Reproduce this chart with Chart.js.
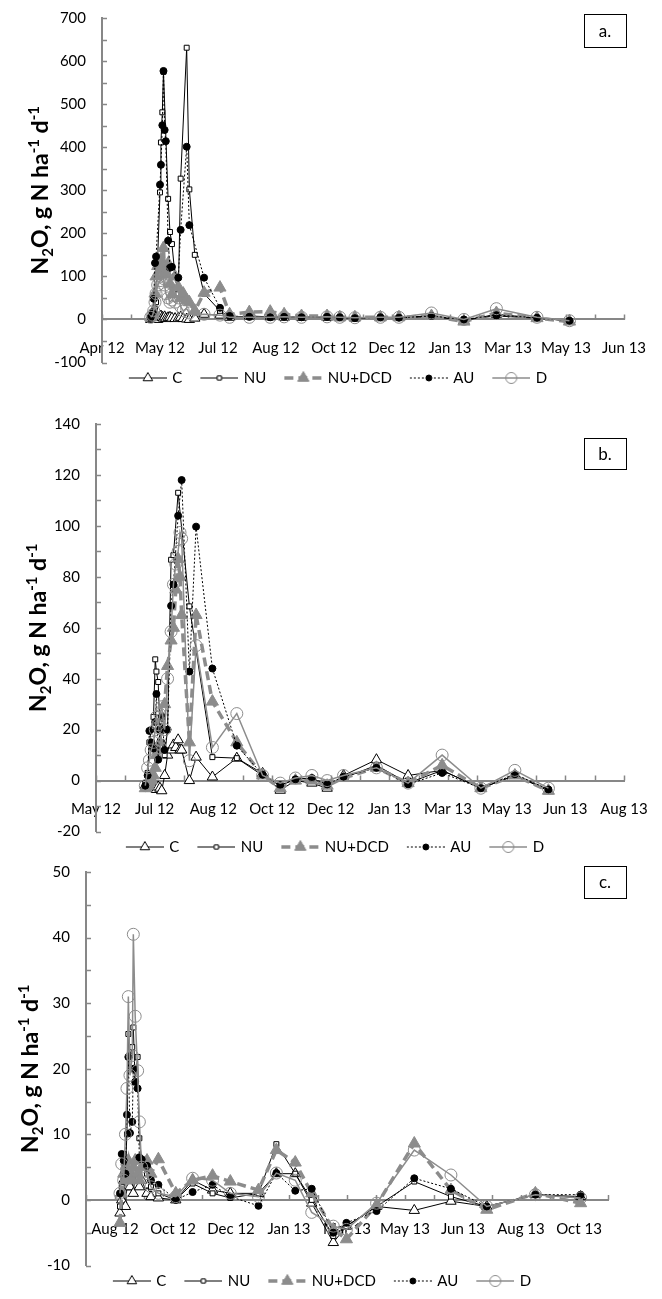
<!DOCTYPE html>
<html>
<head>
<meta charset="utf-8">
<title>N2O fluxes</title>
<script src="https://cdn.jsdelivr.net/npm/chart.js@4.4.1/dist/chart.umd.min.js"></script>
<style>
  html, body { margin: 0; padding: 0; background: #ffffff; }
  body { position: relative; width: 662px; height: 1299px; overflow: hidden; }
  canvas { position: absolute; left: 0; }
</style>
</head>
<body>
<canvas id="chartA" width="662" height="400" style="top:0px"></canvas>
<canvas id="chartB" width="662" height="474" style="top:400px"></canvas>
<canvas id="chartC" width="662" height="449" style="top:850px"></canvas>
<script>
const seriesNames = ['C', 'NU', 'NU+DCD', 'AU', 'D'];

// panel a - sampling days counted from 1 Apr 2012
const daysA = [40, 42, 43.7, 44.6, 45.7, 46.6, 48, 50, 50.8, 52,
               53, 54, 55, 57, 58.6, 60.3, 63, 65.8, 67.8, 70,
               73, 75.3, 80, 88, 101.7, 110, 127, 145, 157, 172,
               194, 205, 218, 240, 256, 284, 312, 340, 375, 403];
const cA   = [null, 0, 2, 5, 8, 3, 0, 5, 8, 5, 3, 6, 2, 4, 5, 3, 2, 3, 5, 2,
              1, 0, 3, 12, 10, 5, 8, 6, 5, 5, 5, 4, 3, 4, 5, 8, -3, 12, 3, -3];
const nuA  = [null, 3, 8, 15, 25, 40, null, 295, 411, 481, 575, null, null, 280, 203, 175, 100, 60, 327, null,
              631, 302, 150, 60, 20, 6, 5, 4, 6, 5, 5, 4, 3, 5, 4, 6, 0, 8, 3, -3];
const dcdA = [null, 5, 10, 20, 60, 100, 124, 115, 140, 120, 166, 104, 110, 130, 83, 58, 100, 75, 50, 60,
              45, 40, 20, 62, 74, 12, 17, 18, 12, 8, 8, 5, 5, 5, 5, 8, -5, 15, 3, -5];
const auA  = [null, 5, 17, 48, 131, 146, null, 313, 359, 451, 577, 440, 414, 183, 120, 122, null, 97, 208, null,
              401, 219, null, 97, 27, 8, 6, 5, 6, 5, 6, 5, 3, 5, 4, 8, 0, 10, 4, -3];
const dA   = [null, 5, 10, 20, 40, 60, 80, 90, 100, 110, 95, 80, 60, 50, 40, 45, 40, 50, 30, 20,
              25, 15, 10, 12, 10, 5, 5, 5, 6, 5, 6, 5, 4, 5, 5, 15, 0, 25, 5, -3];
const ticksA = ['Apr 12', 'May 12', 'Jul 12', 'Aug 12', 'Oct 12', 'Dec 12', 'Jan 13', 'Mar 13', 'May 13', 'Jun 13'];

// panel b - days from 15 May 2012
const daysB = [42, 44, 45.5, 47, 49, 50.5, 51.5, 53, 54.5, 56,
               58.5, 61, 64, 66, 68, 70, 71.6, 73, 79.6, 85.3,
               99.2, 120, 142, 157, 170, 184, 197, 211, 239, 266,
               295, 328, 357, 385.6];
const cB   = [-2, -1, 0, -1, -2, -3, -3.5, -2.5, -3, -4, 2, 10, 12, 14, 13, 16, 12, 12, 0, 9.2,
              1.4, 8.8, 2.8, -3.8, 0, -1, -3, 2, 8.2, 2, 4, -3, 2, -4];
const nuB  = [-1, 3, 15, 20, 25, 47.6, 42.8, 38.7, 20, 15, 10, 20, 86.7, 88.5, null, 113, null, null, 68.4, null,
              9.2, 8.8, 2, -2, 0.5, 1, -2, 1, 6, -1, 4, -3, 2, -3.5];
const dcdB = [-3, -2, -1, 0, 2, 5, 10, 12, 15, 20, 30, 45, 55, 60, 75, 87, 80, 65, 15, 65,
              31, 15, 2, -3, 0, 0, -2, 1, 5, -1, 6, -3, 2, -4];
const auB  = [-2, 2, 19.5, 15, 12.6, 23, 34, 8.2, 20, 25, 12, 20, 68.6, 77, null, 104, null, 118, 42.8, 99.7,
              44, 13.7, 2.3, -1.8, 0.5, 1, -1.5, 1.5, 5, -1.5, 3, -3, 2.5, -3.5];
const dB   = [-2, 5, 8, 12, 15, 20, 25, 22, 26, 29, 20, 40, 58.5, 77, 85, 90, 97.4, 95, 7.8, 53,
              13, 26.3, 2, -1, 1, 2, 0, 2, 5, -1, 10, -3, 4, -3];
const ticksB = ['May 12', 'Jul 12', 'Aug 12', 'Oct 12', 'Dec 12', 'Jan 13', 'Mar 13', 'May 13', 'Jun 13', 'Aug 13'];

// panel c - days from 28 Aug 2012 (axis starts 25 days earlier)
const daysC = [4.3, 5.8, 7.5, 9, 10.3, 11.5, 12.9, 14.9, 15.8, 17.4,
               19.5, 21, 23, 27.6, 31, 37.4, 52.4, 66.9, 84.1, 99.4,
               123.7, 139.1, 155.4, 169.6, 188.2, 199.5, 225.5, 258, 289.6, 320.5,
               362.4, 401.4];
const cC   = [-2, 0, 3, -1, 2, 4, 2, 3, 1, 4, 3, 2, 3, 1, 0.5, 0.3, 0, 3, 1.5, 1,
              1, 4, 4, -0.5, -6.5, -4, -1, -1.6, -0.2, -1, 0.8, 0.5];
const nuC  = [-1, 2, 7, 5, 10, 25.3, 22, 23.3, 26.3, 18, 21.8, 9.4, 6, 4, 2, 1, 0, 2.5, 1, 0.3,
              1, 8.5, 4, 0, -5.5, -4, -1, 2.8, 0.5, -1, 0.8, 0.3];
const dcdC = [-3.5, 1, 4, 3, 5, 6, 4, 3, 5, 6, 4, 3, 5, 6, 4, 6.2, 1, 3, 3.7, 2.8,
              1.5, 7.6, 5.7, 1, -4.5, -6, -0.8, 8.6, 1.5, -1.5, 1, -0.5];
const auC  = [1, 7, 6, 4, 13, 21.8, 10.2, 11.9, 20, 18, 17, 6.5, 6.2, 5.2, 3, 2.3, 0, 1.2, 2.3, 0.5,
              -0.9, 4.1, 1.4, 1.7, -5, -3.5, -1.7, 3.3, 1.7, -1, 0.8, 0.8];
const dC   = [1, 5.5, 3, 10, 17, 31, 19, 22, 40.5, 28, 19.7, 11.9, 5, 4, 2, 1, 0.5, 3.3, 3, 1,
              0.5, 4.1, 3, -1.9, -4, -4.5, -0.5, 7.6, 3.8, -1, 0.8, 0.3];
const ticksC = ['Aug 12', 'Oct 12', 'Dec 12', 'Jan 13', 'Mar 13', 'May 13', 'Jun 13', 'Aug 13', 'Oct 13'];

const titleParts = [['N', 0], ['2', -1], ['O, g N ha', 0], ['-1', 1], [' d', 0], ['-1', 1]];

const axisGray = '#878787';
const styles = [
  {color: '#000000', width: 1, dash: [], point: 'triangle', radius: 6, fill: '#ffffff'},
  {color: '#000000', width: 1, dash: [], point: 'rect', radius: 3.5, fill: '#ffffff'},
  {color: '#8c8c8c', width: 3.5, dash: [9, 5], point: 'triangle', radius: 7, fill: '#8c8c8c'},
  {color: '#000000', width: 1, dash: [2, 2], point: 'circle', radius: 3.5, fill: '#000000'},
  {color: '#8c8c8c', width: 1.5, dash: [], point: 'circle', radius: 6, fill: 'rgba(0,0,0,0)'}
];

Chart.defaults.font.family = 'Lato';
Chart.defaults.font.size = 15;
Chart.defaults.color = '#000000';

function legendIcon(st) {
  const c = document.createElement('canvas');
  c.width = 50;
  c.height = 16;
  const g = c.getContext('2d');
  g.strokeStyle = st.color;
  g.lineWidth = st.width;
  g.setLineDash(st.dash);
  g.beginPath();
  g.moveTo(12, 8);
  g.lineTo(50, 8);
  g.stroke();
  g.setLineDash([]);
  g.lineWidth = 1;
  g.fillStyle = st.fill;
  Chart.helpers.drawPoint(g, {pointStyle: st.point, radius: st.radius - 0.5, rotation: 0, borderWidth: 1}, 31, 8);
  return c;
}
const legendIcons = styles.map(legendIcon);

// small inward tick marks, as on the original axes
const axisMarks = {
  id: 'axisMarks',
  beforeDatasetsDraw(chart, args, opts) {
    const {ctx, chartArea} = chart;
    const x = chart.scales.x, y = chart.scales.y;
    const y0 = y.getPixelForValue(0);
    ctx.save();
    ctx.strokeStyle = axisGray;
    ctx.lineWidth = 1.5;
    ctx.beginPath();
    for (let v = x.min; v <= x.max; v += opts.xStep) {
      const px = Math.round(x.getPixelForValue(v)) + 0.5;
      ctx.moveTo(px, y0);
      ctx.lineTo(px, y0 - 5);
    }
    for (let v = y.min; v <= y.max; v += opts.yStep) {
      const py = Math.round(y.getPixelForValue(v)) + 0.5;
      ctx.moveTo(chartArea.left, py);
      ctx.lineTo(chartArea.left + 5, py);
    }
    ctx.stroke();
    ctx.restore();
  }
};

// rotated axis title with real sub- and superscripts
const yTitle = {
  id: 'yTitle',
  afterDraw(chart, args, opts) {
    const {ctx, chartArea} = chart;
    const big = 'bold 23px Lato', small = 'bold 15px Lato';
    ctx.save();
    let total = 0;
    const widths = titleParts.map(([t, s]) => {
      ctx.font = s ? small : big;
      const w = ctx.measureText(t).width;
      total += w;
      return w;
    });
    ctx.translate(opts.cx, (chartArea.top + chartArea.bottom) / 2);
    ctx.rotate(-Math.PI / 2);
    ctx.fillStyle = '#000000';
    ctx.textBaseline = 'alphabetic';
    let pos = -total / 2;
    titleParts.forEach(([t, s], i) => {
      ctx.font = s ? small : big;
      const dy = s < 0 ? 13 : (s > 0 ? -1 : 8);
      ctx.fillText(t, pos, dy);
      pos += widths[i];
    });
    ctx.restore();
  }
};

// boxed panel letter
const panelTag = {
  id: 'panelTag',
  afterDraw(chart, args, opts) {
    const {ctx} = chart;
    ctx.save();
    ctx.strokeStyle = '#000000';
    ctx.lineWidth = 1;
    ctx.strokeRect(opts.x + 0.5, opts.y + 0.5, opts.w, opts.h);
    ctx.fillStyle = '#000000';
    ctx.font = '17px Lato';
    ctx.textAlign = 'center';
    ctx.textBaseline = 'middle';
    ctx.fillText(opts.text, opts.x + opts.w / 2, opts.y + opts.h / 2 + 1);
    ctx.restore();
  }
};

function makeChart(id, days, series, tickLabels, cfg) {
  const datasets = series.map((values, i) => {
    const st = styles[i];
    return {
      label: seriesNames[i],
      data: days.map((d, k) => values[k] === null ? null : {x: d, y: values[k]}).filter(p => p),
      borderColor: st.color,
      borderWidth: st.width,
      borderDash: st.dash,
      pointStyle: st.point,
      pointRadius: st.radius,
      pointBackgroundColor: st.fill,
      pointBorderColor: st.color,
      pointBorderWidth: 1,
      tension: 0,
      fill: false,
      order: series.length - 1 - i
    };
  });

  return new Chart(document.getElementById(id), {
    type: 'line',
    data: {datasets: datasets},
    options: {
      responsive: false,
      animation: false,
      events: [],
      layout: {padding: cfg.padding},
      scales: {
        x: {
          type: 'linear',
          position: {y: 0},
          min: cfg.xMin,
          max: cfg.xMax,
          grid: {display: false},
          border: {color: axisGray, width: 2},
          ticks: {
            autoSkip: false,
            maxRotation: 0,
            padding: 12,
            callback: v => tickLabels[Math.round(v / 50)]
          },
          afterBuildTicks: s => { s.ticks = tickLabels.map((t, i) => ({value: i * 50})); },
          afterFit: s => { s.height = cfg.xAxisHeight; }
        },
        y: {
          min: cfg.yMin,
          max: cfg.yMax,
          grid: {display: false},
          border: {color: axisGray, width: 2},
          ticks: {stepSize: cfg.yStep, padding: 8},
          afterFit: s => { s.width = 60; }
        }
      },
      plugins: {
        tooltip: {enabled: false},
        legend: {
          position: 'bottom',
          labels: {
            usePointStyle: true,
            pointStyleWidth: 46,
            padding: 8,
            font: {size: 15},
            generateLabels: chart => chart.data.datasets.map((ds, i) => ({
              text: ds.label,
              pointStyle: legendIcons[i],
              fillStyle: 'rgba(0,0,0,0)',
              strokeStyle: 'rgba(0,0,0,0)',
              lineWidth: 0,
              hidden: false,
              datasetIndex: i,
              fontColor: '#000000'
            }))
          }
        },
        axisMarks: {xStep: 25, yStep: cfg.yStep / 2},
        yTitle: {cx: cfg.titleX},
        panelTag: cfg.tag
      }
    },
    plugins: [axisMarks, yTitle, panelTag]
  });
}

makeChart('chartA', daysA, [cA, nuA, dcdA, auA, dA], ticksA, {
  xMin: 0, xMax: 450, yMin: -100, yMax: 700, yStep: 100,
  padding: {left: 42, right: 38, top: 18, bottom: 4.5},
  xAxisHeight: 24.5, titleX: 40,
  tag: {text: 'a.', x: 584, y: 14, w: 42, h: 33}
});

makeChart('chartB', daysB, [cB, nuB, dcdB, auB, dB], ticksB, {
  xMin: 0, xMax: 450, yMin: -20, yMax: 140, yStep: 20,
  padding: {left: 36, right: 38, top: 24, bottom: 9.5},
  xAxisHeight: 20.5, titleX: 38,
  tag: {text: 'b.', x: 584, y: 38, w: 42, h: 31}
});

makeChart('chartC', daysC, [cC, nuC, dcdC, auC, dC], ticksC, {
  xMin: -25, xMax: 425, yMin: -10, yMax: 50, yStep: 10,
  padding: {left: 26, right: 54, top: 22, bottom: 0.5},
  xAxisHeight: 7.5, titleX: 30,
  tag: {text: 'c.', x: 584, y: 16, w: 42, h: 32}
});
</script>
</body>
</html>
